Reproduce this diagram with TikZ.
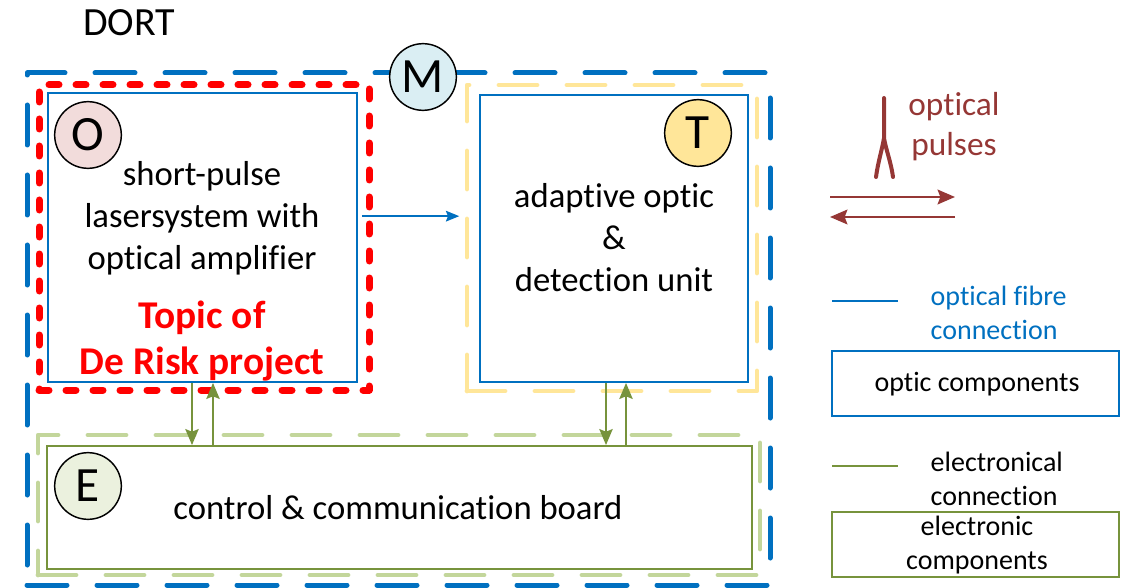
\documentclass[tikz,border=0pt]{standalone}
\usepackage{fontspec}
\setmainfont{Carlito}[Ligatures={NoCommon,NoRare,NoContextual}]
\usetikzlibrary{arrows.meta,fit,calc}
\definecolor{oblue}{HTML}{0070C0}
\definecolor{ored}{HTML}{FF0000}
\definecolor{oyel}{HTML}{FFE699}
\definecolor{lgreen}{HTML}{C3D69B}
\definecolor{olive}{HTML}{77933C}
\definecolor{dred}{HTML}{953735}
\definecolor{mfill}{HTML}{DAEEF3}
\definecolor{ofill}{HTML}{F2DCDB}
\definecolor{tfill}{HTML}{FFE699}
\definecolor{efill}{HTML}{EBF1DE}
\begin{document}
\begin{tikzpicture}[x=0.75pt,y=-0.75pt,
  bluedash/.style={draw=oblue, line width=3.75pt, dash pattern=on 30pt off 22.5pt, line cap=round, line join=round, inner sep=0pt},
  reddot/.style={draw=ored, line width=5.25pt, dash pattern=on 7.5pt off 12.75pt, line cap=round, line join=round, inner sep=0pt},
  yeldash/.style={draw=oyel, line width=3.6pt, dash pattern=on 28.5pt off 22.5pt, line cap=round, line join=round, inner sep=0pt},
  grndash/.style={draw=lgreen, line width=3.6pt, dash pattern=on 28.5pt off 22.5pt, line cap=round, line join=round, inner sep=0pt},
  optbox/.style={draw=oblue, line width=1.4pt, inner sep=0pt},
  elbox/.style={draw=olive, line width=1.4pt, inner sep=0pt},
  circ/.style={circle, draw=black, line width=1.1pt, minimum size=50pt, inner sep=0pt, font=\fontsize{37}{40}\selectfont},
  body/.style={align=center, font=\fontsize{26}{31.5}\selectfont},
  legtxt/.style={align=left, anchor=west, font=\fontsize{21}{25.5}\selectfont},
  legctr/.style={align=center, font=\fontsize{21}{25.5}\selectfont},
  barrow/.style={draw=oblue, line width=1.3pt, -{Stealth[length=10pt,width=8pt,inset=1.5pt]}},
  garrow/.style={draw=olive, line width=1.4pt, -{Stealth[length=12pt,width=10pt,inset=2pt]}},
  rarrow/.style={draw=dred, line width=1.9pt, -{Stealth[length=13pt,width=11pt,inset=2pt]}},
  legline/.style={line width=1.9pt}
]
\useasboundingbox (0,0) rectangle (1121,588);

% DORT label
\node[font=\fontsize{30}{34}\selectfont] (dort) at (129,23) {DORT};

% outer modules
\node[bluedash, fit={(27,73) (770,585)}] (Mrect) {};
\node[reddot, fit={(39,85) (369,390)}] (Rrect) {};
\node[yeldash, fit={(467,85) (757,391)}] (Yrect) {};
\node[grndash, fit={(38,435) (760,575)}] (Grect) {};

% component boxes
\node[optbox, fit={(48,93) (357,382)}] (Obox) {};
\node[optbox, fit={(480,95) (748,382)}] (Tbox) {};
\node[elbox, fit={(47,446) (752,569)}] (Ebox) {};

% letter circles
\node[circ, fill=mfill] (M) at (423,77) {M};
\node[circ, fill=ofill] (O) at (88,135) {O};
\node[circ, fill=tfill] (T) at (698,133) {T};
\node[circ, fill=efill] (E) at (88,486) {E};

% texts
\node[body] (otext) at (202,218) {short-pulse\\lasersystem with\\optical amplifier};
\node[align=center, text=ored, font=\bfseries\fontsize{29.5}{35}\selectfont] (topic) at (202,341) {Topic of\\De Risk project};
\node[body] (ttext) at (614,238) {adaptive optic\\\&\\detection unit};
\node[body] (etext) at (398,508) {control \& communication board};

% connectors
\draw[barrow] ([xshift=3pt,yshift=16pt]Obox.east) -- ([xshift=-4pt,yshift=16pt]Yrect.west |- Obox.east);
\coordinate (xl1) at (192,0);
\coordinate (xl2) at (213,0);
\coordinate (xr1) at (606,0);
\coordinate (xr2) at (626,0);
\draw[garrow] (Obox.south -| xl1) -- (Ebox.north -| xl1);
\draw[garrow] (Ebox.north -| xl2) -- (Obox.south -| xl2);
\draw[garrow] (Tbox.south -| xr1) -- (Ebox.north -| xr1);
\draw[garrow] (Ebox.north -| xr2) -- (Tbox.south -| xr2);

% legend: optical pulses
\coordinate (ptop) at (884,98);
\coordinate (pmid) at (884,138);
\coordinate (pl) at (876,177);
\coordinate (pr) at (893,177);
\draw[dred, line width=3pt, line cap=round, line join=round] (ptop) -- (pmid) .. controls (882,150) and (878,162) .. (pl);
\draw[dred, line width=3pt, line cap=round] (pmid) .. controls (886,150) and (891,162) .. (pr);
\node[align=center, text=dred, font=\fontsize{25}{30}\selectfont] (ptext) at (954,127) {optical\\pulses};
\coordinate (ra1) at (830,197);
\coordinate (ra2) at (955,197);
\coordinate (la1) at (955,217);
\coordinate (la2) at (830,217);
\draw[rarrow] (ra1) -- (ra2);
\draw[rarrow] (la1) -- (la2);

% legend: optical fibre
\coordinate (bl1) at (832,301);
\coordinate (bl2) at (898,301);
\draw[oblue, legline] (bl1) -- (bl2);
\node[legtxt, text=oblue] (fibtext) at (926,313) {optical fibre\\connection};
\node[optbox, fit={(832,351) (1119,416)}] (legO) {};
\node[legctr] (legOtext) at (977,384) {optic components};

% legend: electronical
\coordinate (gl1) at (832,466);
\coordinate (gl2) at (898,466);
\draw[olive, legline] (gl1) -- (gl2);
\node[legtxt] (eltext) at (926,479) {electronical\\connection};
\node[elbox, fit={(832,512) (1119,577)}] (legE) {};
\node[legctr] (legEtext) at (977,545) {electronic\\components};
\end{tikzpicture}
\end{document}
